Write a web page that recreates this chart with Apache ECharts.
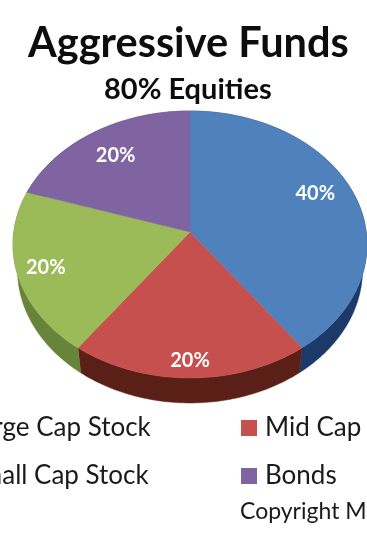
<!DOCTYPE html>
<html><head><meta charset="utf-8">
<style>html,body{margin:0;padding:0;background:#fff}#c{width:367px;height:545px}</style>
<script src="https://cdn.jsdelivr.net/npm/echarts@6/dist/echarts.min.js"></script>
</head><body><div id="c"></div>
<script>
const categories = ['Large Cap Stock', 'Mid Cap', 'Small Cap Stock', 'Bonds'];
const shares = [40, 20, 20, 20];
const titleText = 'Aggressive Funds';
const subtitleText = '80% Equities';
const copyrightText = 'Copyright M';

// styling and geometry of the tilted pie
const faceColors = ['#4f81bd', '#c5504e', '#9bbb59', '#8064a2'];
const wallColors = ['#1b3a69', '#5a2018', '#67843a', '#4a3a60'];
const labelRadii = [0.79, 0.89, 0.84, 0.76];
const labelAngleShare = [0.47, 0.5, 0.5, 0.5];
const geo = {cx: 190, cy: 232, sx: 176.2, sy: 132.3, k: -0.0936, depth: 25, wallScale: 0.975};
const total = shares.reduce((a, b) => a + b, 0);

function project(theta, r, bottom) {
  const u = Math.sin(theta) * r, v = -Math.cos(theta) * r;
  const d = 1 + geo.k * v;
  const x = u * geo.sx / d, y = v * geo.sy / d;
  return bottom ? [geo.cx + x * geo.wallScale, geo.cy + y + geo.depth] : [geo.cx + x, geo.cy + y];
}
function arc(a0, a1, bottom) {
  const n = Math.max(2, Math.ceil((a1 - a0) / (Math.PI / 180)));
  const pts = [];
  for (let i = 0; i <= n; i++) pts.push(project(a0 + (a1 - a0) * i / n, 1, bottom));
  return pts;
}
function renderSlice(index) {
  return function (params, api) {
    const value = api.value(0);
    const before = shares.slice(0, index).reduce((a, b) => a + b, 0);
    const a0 = before / total * 2 * Math.PI;
    const a1 = (before + value) / total * 2 * Math.PI;
    const mid = a0 + (a1 - a0) * labelAngleShare[index];
    const lp = project(mid, labelRadii[index], false);
    const face = [project(0, 0, false)].concat(arc(a0, a1, false));
    const wall = arc(a0, a1, false).concat(arc(a0, a1, true).reverse());
    return {type: 'group', children: [
      {type: 'polygon', z2: 1, shape: {points: wall},
        style: {fill: wallColors[index], stroke: wallColors[index], lineWidth: 0.5}},
      {type: 'polygon', z2: 10, shape: {points: face},
        style: {fill: faceColors[index], stroke: faceColors[index], lineWidth: 0.5}},
      {type: 'text', z2: 20, x: lp[0], y: lp[1],
        style: {text: value + '%', fill: '#fff', font: 'bold 20px Lato', align: 'center', verticalAlign: 'middle'}}
    ]};
  };
}
const font = 'Lato';
const legendText = {fontFamily: font, fontSize: 26, color: '#1a1a1a', padding: [0, 0, 0, 3]};
const chart = echarts.init(document.getElementById('c'), null, {renderer: 'canvas'});
chart.setOption({
  animation: false,
  backgroundColor: '#fff',
  title: [
    {text: titleText, left: 23, top: 18, textStyle: {fontFamily: font, fontSize: 41.5, fontWeight: 'bold', color: '#0d0d0d'}},
    {text: subtitleText, left: 99, top: 70, textStyle: {fontFamily: font, fontSize: 29, fontWeight: 'bold', color: '#0d0d0d'}},
    {text: copyrightText, left: 235, top: 495, textStyle: {fontFamily: font, fontSize: 23, fontWeight: 'normal', color: '#1a1a1a'}}
  ],
  legend: [
    {data: [categories[0], categories[2]], orient: 'vertical', left: -62, top: 410, itemWidth: 16, itemHeight: 16, itemGap: 22, icon: 'rect', selectedMode: false, textStyle: legendText},
    {data: [categories[1], categories[3]], orient: 'vertical', left: 236, top: 410, itemWidth: 16, itemHeight: 16, itemGap: 22, icon: 'rect', selectedMode: false, textStyle: legendText}
  ],
  series: categories.map((name, i) => ({
    type: 'custom', name, coordinateSystem: 'none', silent: true,
    itemStyle: {color: faceColors[i]},
    data: [[shares[i]]],
    renderItem: renderSlice(i)
  }))
});
</script></body></html>
